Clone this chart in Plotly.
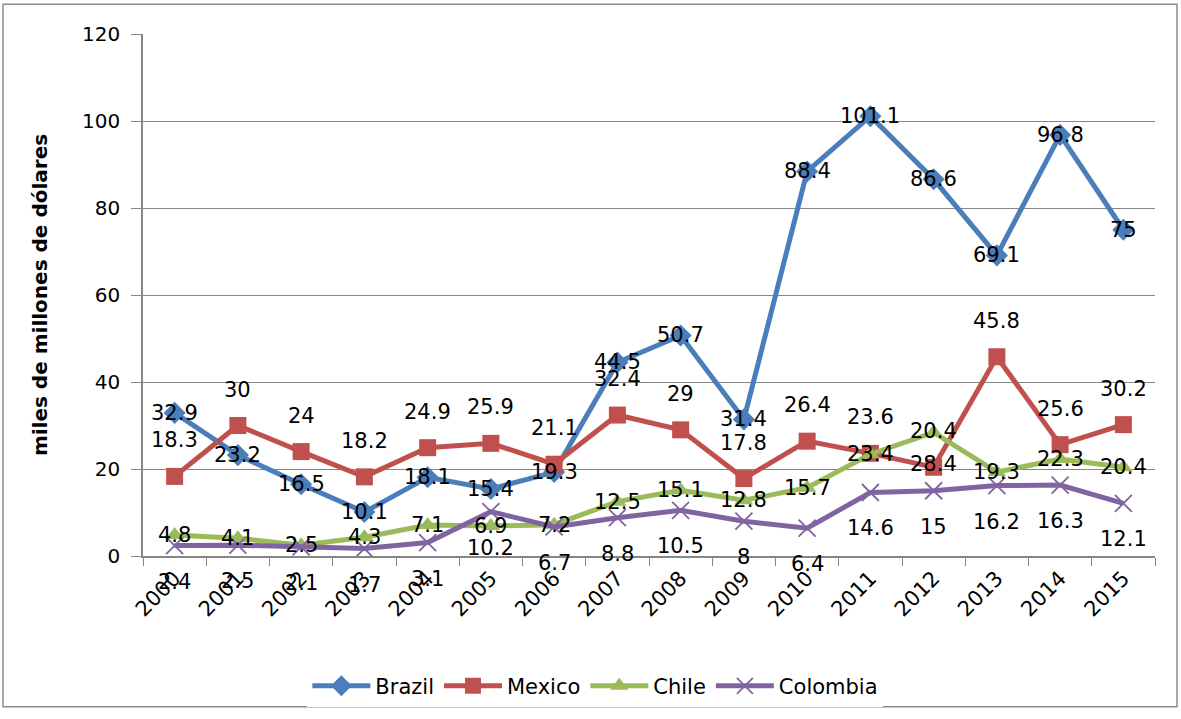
import plotly.graph_objects as go

years = ["2000", "2001", "2002", "2003", "2004", "2005", "2006", "2007",
         "2008", "2009", "2010", "2011", "2012", "2013", "2014", "2015"]

brazil = [32.9, 23.2, 16.5, 10.1, 18.1, 15.4, 19.3, 44.5, 50.7, 31.4, 88.4, 101.1, 86.6, 69.1, 96.8, 75]
mexico = [18.3, 30, 24, 18.2, 24.9, 25.9, 21.1, 32.4, 29, 17.8, 26.4, 23.6, 20.4, 45.8, 25.6, 30.2]
chile = [4.8, 4.1, 2.5, 4.3, 7.1, 6.9, 7.2, 12.5, 15.1, 12.8, 15.7, 23.4, 28.4, 19.3, 22.3, 20.4]
colombia = [2.4, 2.5, 2.1, 1.7, 3.1, 10.2, 6.7, 8.8, 10.5, 8, 6.4, 14.6, 15, 16.2, 16.3, 12.1]

FONT = "DejaVu Sans"

# name, values, colour, marker symbol, marker size, label shift (px)
series = [
    ("Brazil", brazil, "#4A7EBB", "diamond", 17, 0),
    ("Mexico", mexico, "#C0504D", "square", 17, 36),
    ("Chile", chile, "#9BBB59", "triangle-up", 16, 0),
    ("Colombia", colombia, "#8064A2", "x-thin", 17, -36),
]
# a label that sits off its default place in the original chart
label_fix = {("Chile", "2012"): -32}

fig = go.Figure()
annotations = []
for name, vals, col, sym, size, shift in series:
    marker = dict(symbol=sym, size=size, color=col)
    if sym == "x-thin":
        marker["line"] = dict(color=col, width=1.8)
    fig.add_trace(go.Scatter(
        x=years, y=vals, name=name, mode="lines+markers",
        line=dict(color=col, width=5), marker=marker,
    ))
    for i, (yr, v) in enumerate(zip(years, vals)):
        # category index, so the label lands on its year
        annotations.append(dict(
            x=i, y=v, xref="x", yref="y", text=f"{v:g}", showarrow=False,
            yshift=label_fix.get((name, yr), shift),
            font=dict(family=FONT, size=21, color="black"),
        ))

# chart-area border (Excel style)
L, R, T, B = 143, 1155, 34, 560
pw, ph = R - L, B - T
fig.add_shape(type="rect", xref="paper", yref="paper",
              x0=(3 - L) / pw, x1=(1177 - L) / pw,
              y0=(B - 712) / ph, y1=(B - 4) / ph,
              line=dict(color="#8C8C8C", width=1.5))

fig.update_layout(
    width=1181, height=719,
    margin=dict(l=L, r=1181 - R, t=T, b=719 - B),
    paper_bgcolor="white", plot_bgcolor="white",
    font=dict(family=FONT, size=20, color="black"),
    annotations=annotations,
    showlegend=True,
    legend=dict(orientation="h", x=0.447, xanchor="center",
                y=-0.21, yanchor="top", font=dict(size=21),
                itemwidth=58, tracegroupgap=0),
    xaxis=dict(
        type="category", range=[-0.5, len(years) - 0.5],
        tickangle=-45, tickson="boundaries",
        ticks="outside", ticklen=8, tickcolor="#868686",
        showline=True, linecolor="#868686", linewidth=1.5,
        showgrid=False, tickfont=dict(size=21),
    ),
    yaxis=dict(
        range=[0, 120], dtick=20, ticks="outside", ticklen=10,
        tickcolor="#868686", showline=True, linecolor="#868686",
        linewidth=1.5, showgrid=True, gridcolor="#868686", gridwidth=1.2,
        zeroline=False, tickfont=dict(size=20), ticklabelstandoff=7,
        title=dict(text="<b>miles de millones de dólares</b>",
                   font=dict(size=20), standoff=29),
    ),
)

# page body margin would shift the chart by 8px
fig.write_html("out.html", config={"displayModeBar": False},
               post_script="document.body.style.margin='0';")
